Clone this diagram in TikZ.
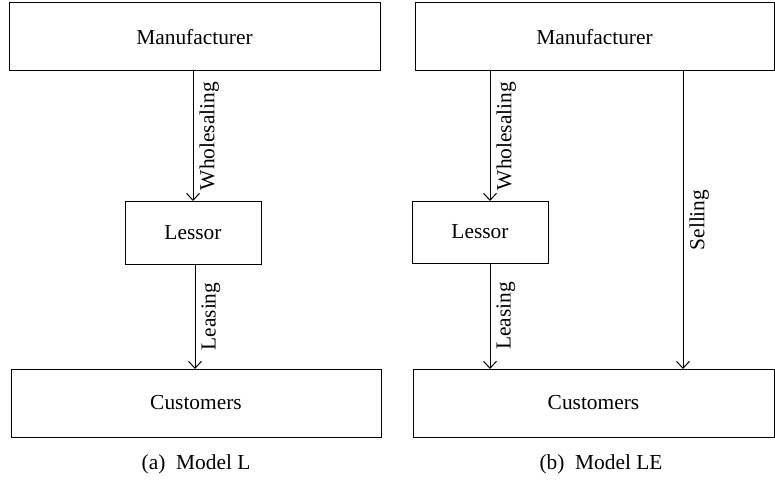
\documentclass[tikz,border=0pt]{standalone}
\usepackage{fontspec}
\setmainfont{Liberation Serif}
\usetikzlibrary{arrows.meta}
\begin{document}
\begin{tikzpicture}[x=0.5pt,y=-0.5pt,
  every node/.style={font=\fontsize{10.7}{12}\selectfont},
  box/.style={draw, line width=0.5pt, inner sep=0pt, outer sep=0pt},
  flow/.style={-{Straight Barb[length=3.5pt,width=6.5pt,line width=0.5pt]}, line width=0.5pt},
  lbl/.style={rotate=90, anchor=north, inner sep=3pt}]
\useasboundingbox (0,0) rectangle (775,481);
% Panel (a)
\node[box, minimum width=185.5pt, minimum height=34pt] (m1) at (194.5,37) {Manufacturer};
\node[box, minimum width=68pt, minimum height=31.5pt] (l1) at (193,232.5) {Lessor};
\node[box, minimum width=185pt, minimum height=34pt] (c1) at (196,403) {Customers};
\draw[flow] (m1.south -| 193,0) -- node[lbl] (w1) {Wholesaling} (l1.north -| 193,0);
\draw[flow] (l1.south -| 195,0) -- node[lbl] (e1) {Leasing} (c1.north -| 195,0);
\node (cap1) at (196,464) {(a)\hspace{0.5em}Model L};
% Panel (b)
\node[box, minimum width=179.5pt, minimum height=34pt] (m2) at (594.5,37) {Manufacturer};
\node[box, minimum width=68pt, minimum height=31pt] (l2) at (480,232) {Lessor};
\node[box, minimum width=180.5pt, minimum height=34pt] (c2) at (593.5,403) {Customers};
\draw[flow] (m2.south -| 490,0) -- node[lbl] (w2) {Wholesaling} (l2.north -| 490,0);
\draw[flow] (l2.south -| 490,0) -- node[lbl] (e2) {Leasing} (c2.north -| 490,0);
\draw[flow] (m2.south -| 683,0) -- node[lbl] (s2) {Selling} (c2.north -| 683,0);
\node (cap2) at (601,464) {(b)\hspace{0.5em}Model LE};
\end{tikzpicture}
\end{document}
